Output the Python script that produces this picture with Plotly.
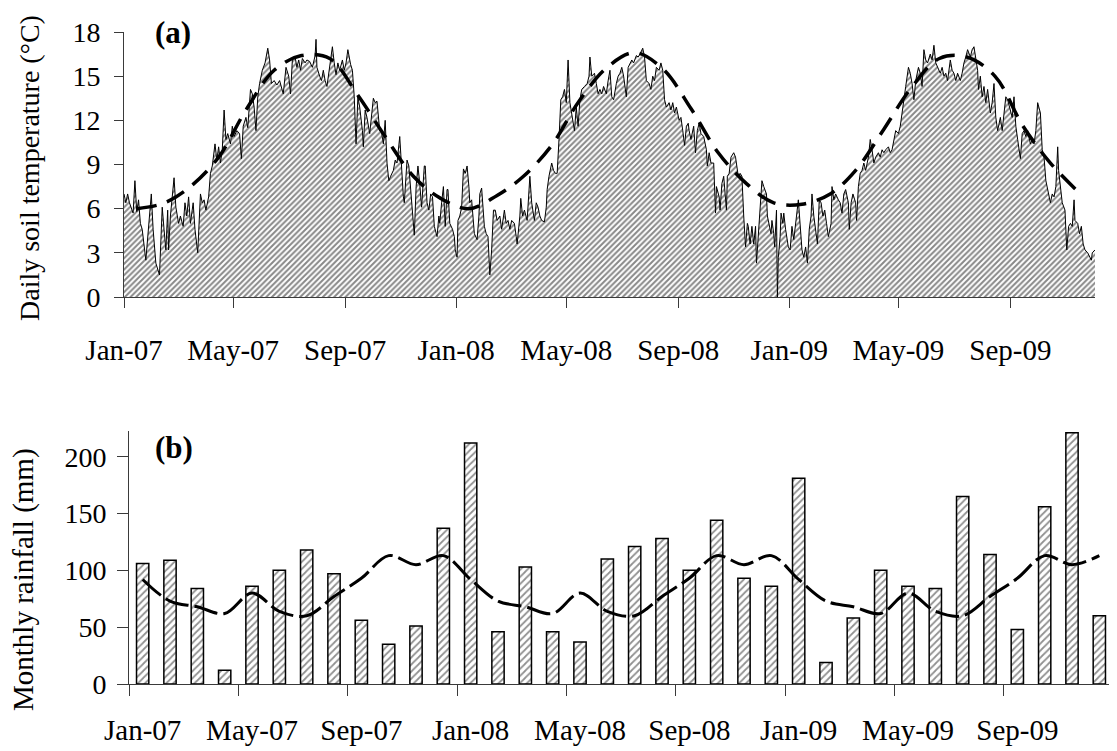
import pandas as pd
import plotly.graph_objects as go

# ---------------- Panel (a): daily soil temperature ----------------
# days since 2007-01-01 and temperature (°C)
soil_days = [
    0, 2, 4, 6, 10, 12, 14, 16, 18, 20,
    24, 27, 30, 32, 35, 39, 40, 42, 44, 46,
    48, 49, 51, 53, 55, 57, 60, 62, 65, 67,
    69, 71, 73, 76, 78, 81, 84, 86, 88, 90,
    93, 95, 97, 100, 102, 104, 106, 108, 110, 112,
    114, 117, 119, 121, 124, 127, 129, 131, 134, 136,
    139, 141, 143, 145, 147, 149, 152, 155, 158, 160,
    162, 165, 168, 171, 175, 178, 181, 183, 185, 188,
    190, 192, 194, 196, 199, 201, 204, 207, 210, 211,
    212, 215, 217, 219, 221, 223, 226, 229, 231, 233,
    235, 237, 240, 242, 244, 246, 249, 251, 253, 255,
    257, 259, 262, 263, 265, 267, 270, 272, 274, 276,
    278, 281, 283, 285, 287, 289, 291, 293, 296, 298,
    300, 303, 305, 307, 308, 311, 313, 315, 317, 319,
    321, 323, 325, 327, 330, 331, 333, 335, 337, 339,
    341, 342, 344, 346, 347, 349, 351, 353, 355, 356,
    358, 361, 363, 364, 366, 367, 369, 371, 373, 375,
    377, 379, 380, 382, 384, 385, 388, 390, 391, 393,
    396, 398, 400, 402, 404, 406, 408, 410, 413, 415,
    418, 420, 422, 424, 426, 429, 431, 432, 435, 436,
    438, 440, 443, 445, 446, 448, 451, 453, 455, 457,
    459, 462, 464, 465, 467, 470, 472, 474, 476, 478,
    480, 482, 484, 486, 488, 490, 492, 495, 497, 499,
    501, 503, 506, 509, 511, 512, 514, 517, 519, 521,
    523, 525, 527, 530, 532, 534, 536, 538, 541, 543,
    545, 547, 549, 552, 554, 556, 558, 560, 563, 565,
    567, 570, 572, 574, 577, 579, 581, 583, 585, 588,
    590, 592, 594, 596, 599, 601, 603, 605, 607, 610,
    612, 614, 616, 618, 620, 621, 623, 626, 628, 630,
    632, 634, 637, 640, 641, 643, 645, 648, 650, 651,
    654, 655, 657, 659, 662, 663, 665, 667, 670, 672,
    673, 675, 677, 679, 681, 683, 685, 686, 688, 690,
    692, 694, 695, 697, 698, 701, 703, 706, 707, 709,
    711, 712, 714, 715, 717, 718, 719, 721, 722, 724,
    725, 727, 728, 730, 732, 734, 736, 737, 739, 741,
    743, 745, 747, 749, 751, 753, 755, 756, 758, 760,
    762, 764, 766, 768, 770, 772, 774, 777, 778, 780,
    782, 785, 787, 789, 791, 793, 796, 797, 799, 801,
    804, 805, 807, 809, 811, 813, 815, 818, 820, 822,
    824, 826, 829, 831, 833, 835, 837, 840, 842, 844,
    846, 848, 851, 853, 855, 857, 859, 862, 864, 866,
    868, 870, 873, 875, 877, 879, 881, 883, 886, 888,
    890, 892, 894, 897, 899, 901, 903, 905, 908, 910,
    912, 914, 916, 919, 921, 923, 925, 927, 930, 932,
    934, 936, 938, 939, 941, 943, 945, 947, 949, 952,
    954, 956, 958, 960, 963, 965, 967, 969, 971, 974,
    976, 978, 980, 982, 985, 987, 989, 991, 993, 996,
    998, 1000, 1002, 1004, 1007, 1009, 1011, 1013, 1015, 1018,
    1020, 1022, 1024, 1026, 1027, 1029, 1031, 1034, 1036, 1038,
    1040, 1042, 1044, 1045, 1048, 1050, 1052, 1054, 1056, 1059,
    1061, 1063, 1064, 1067,
]
soil_temp = [
    7.0, 6.4, 7.0, 6.4, 5.7, 7.9, 5.8, 6.6, 5.0, 4.6,
    2.5, 4.8, 7.0, 4.6, 2.3, 1.5, 3.4, 6.1, 4.6, 3.2,
    5.9, 3.2, 5.5, 6.6, 8.1, 6.1, 5.0, 5.5, 4.8, 6.4,
    5.5, 6.8, 5.0, 6.4, 4.6, 3.0, 7.0, 6.4, 6.6, 5.9,
    6.8, 8.4, 8.9, 10.4, 9.3, 10.2, 9.1, 10.0, 12.7, 10.7,
    11.1, 10.4, 11.6, 10.9, 11.3, 11.1, 9.4, 11.6, 12.2, 11.5,
    14.1, 13.8, 12.9, 11.3, 13.6, 14.5, 15.4, 15.9, 16.9, 16.1,
    14.5, 14.7, 14.4, 14.7, 13.8, 15.6, 15.0, 13.8, 16.1, 16.3,
    15.6, 16.1, 15.4, 16.2, 15.9, 16.1, 16.0, 15.6, 16.4, 17.5,
    15.6, 15.0, 14.7, 15.4, 14.7, 14.3, 15.6, 17.0, 15.9, 15.1,
    15.9, 15.4, 16.1, 15.4, 15.9, 16.8, 15.8, 15.4, 13.6, 10.4,
    13.6, 12.9, 11.3, 10.2, 12.7, 12.2, 11.1, 12.5, 13.5, 13.2,
    13.3, 11.3, 11.2, 10.4, 12.0, 9.1, 7.9, 8.2, 8.6, 9.3,
    9.1, 10.9, 8.4, 6.8, 6.4, 9.3, 8.9, 7.3, 5.5, 4.2,
    7.5, 8.9, 7.7, 6.1, 8.9, 8.9, 6.4, 5.9, 7.0, 6.8,
    4.8, 4.6, 4.1, 5.5, 5.0, 6.4, 7.5, 4.8, 7.3, 7.3,
    5.0, 4.6, 4.1, 3.2, 2.7, 5.2, 5.5, 6.1, 8.7, 8.4,
    8.9, 7.5, 6.4, 6.6, 5.0, 4.3, 3.9, 5.5, 7.0, 7.4,
    4.8, 4.3, 4.1, 1.5, 3.2, 5.9, 5.9, 5.2, 5.5, 4.6,
    5.9, 5.0, 5.2, 4.6, 5.2, 5.0, 4.1, 3.6, 5.5, 6.7,
    5.5, 5.9, 5.2, 7.5, 8.2, 6.4, 5.2, 6.4, 6.1, 5.5,
    5.2, 5.1, 6.1, 7.3, 8.2, 9.1, 8.6, 8.4, 8.4, 10.7,
    13.4, 13.6, 14.1, 13.2, 16.1, 13.2, 12.5, 11.3, 12.9, 11.6,
    13.4, 14.1, 14.3, 14.5, 15.0, 16.3, 15.0, 15.2, 14.5, 13.8,
    14.1, 13.8, 14.3, 13.8, 14.7, 15.4, 13.6, 13.4, 14.5, 15.0,
    15.2, 15.6, 15.0, 13.6, 15.6, 15.9, 16.1, 15.9, 16.4, 16.3,
    16.5, 16.9, 16.3, 14.7, 14.5, 14.1, 15.0, 14.7, 15.6, 15.4,
    15.9, 15.4, 13.4, 12.9, 13.2, 12.7, 13.2, 12.5, 12.9, 12.0,
    12.2, 11.3, 10.3, 11.6, 11.8, 11.3, 10.7, 11.6, 9.8, 11.3,
    11.8, 11.1, 10.9, 10.0, 8.9, 9.8, 9.1, 9.1, 5.7, 7.5,
    6.8, 5.9, 7.7, 8.2, 5.9, 8.2, 8.4, 9.5, 9.8, 9.5,
    9.1, 8.2, 8.4, 8.2, 5.5, 3.4, 5.0, 4.8, 3.6, 4.8,
    3.6, 4.8, 2.3, 4.1, 5.5, 7.9, 7.5, 7.0, 5.5, 5.0,
    4.3, 5.2, 4.3, 3.4, 5.9, 0.0, 2.7, 4.1, 5.7, 5.0,
    5.7, 4.6, 4.1, 3.4, 3.2, 4.8, 3.9, 4.6, 5.5, 6.6,
    4.6, 3.2, 2.7, 3.4, 2.3, 4.6, 5.5, 7.0, 5.5, 4.6,
    3.6, 6.6, 6.4, 5.5, 5.9, 5.0, 4.1, 5.0, 7.5, 6.6,
    7.0, 6.6, 6.4, 5.7, 7.0, 7.3, 6.4, 4.6, 6.4, 7.0,
    6.4, 5.2, 7.5, 8.4, 8.6, 9.1, 8.6, 9.5, 10.7, 10.0,
    9.1, 9.5, 9.8, 9.5, 10.0, 9.8, 10.0, 10.2, 9.8, 10.0,
    10.7, 11.3, 11.1, 11.6, 12.5, 13.6, 14.3, 15.6, 15.2, 14.5,
    13.4, 14.7, 15.6, 15.2, 14.3, 16.8, 16.1, 15.9, 16.5, 16.1,
    17.1, 15.9, 15.6, 15.2, 15.6, 15.0, 15.2, 14.7, 16.1, 15.4,
    15.2, 14.7, 15.2, 14.7, 15.2, 15.9, 16.3, 16.8, 16.3, 16.8,
    17.0, 16.3, 15.4, 14.1, 15.0, 13.6, 14.3, 13.2, 14.1, 12.5,
    13.2, 14.5, 12.2, 11.3, 12.2, 11.3, 12.5, 13.6, 13.4, 12.7,
    12.2, 13.6, 11.6, 10.7, 9.4, 11.1, 11.3, 10.9, 11.3, 10.4,
    10.7, 10.4, 11.3, 13.2, 12.5, 10.0, 9.5, 7.9, 7.3, 6.4,
    7.0, 6.8, 7.5, 10.2, 8.6, 7.5, 6.4, 5.9, 3.2, 4.8,
    5.0, 4.8, 6.6, 5.2, 5.0, 4.3, 4.8, 3.6, 3.2, 3.0,
    2.7, 2.5, 3.0, 3.2,
]

# long-term mean soil temperature, mid-month (dashed curve)
mean_temp_dates = [
    "2007-01-15", "2007-02-15", "2007-03-15", "2007-04-15", "2007-05-15", "2007-06-15",
    "2007-07-15", "2007-08-15", "2007-09-15", "2007-10-15", "2007-11-15", "2007-12-15",
    "2008-01-15", "2008-02-15", "2008-03-15", "2008-04-15", "2008-05-15", "2008-06-15",
    "2008-07-15", "2008-08-15", "2008-09-15", "2008-10-15", "2008-11-15", "2008-12-15",
    "2009-01-15", "2009-02-15", "2009-03-15", "2009-04-15", "2009-05-15", "2009-06-15",
    "2009-07-15", "2009-08-15", "2009-09-15", "2009-10-15", "2009-11-12",
]
mean_temp = [
    6.0, 6.4, 7.5, 9.5, 12.7, 15.4, 16.4, 16.2, 13.7, 10.9, 8.2, 6.7,
    6.0, 6.9, 8.2, 10.3, 13.3, 15.6, 16.6, 15.5, 12.8, 9.8, 7.7, 6.4,
    6.3, 7.0, 8.6, 11.4, 14.2, 16.2, 16.3, 15.0, 11.6, 9.1, 7.3,
]

tick_dates_a = ["2007-01-01", "2007-05-01", "2007-09-01", "2008-01-01", "2008-05-01",
                "2008-09-01", "2009-01-01", "2009-05-01", "2009-09-01"]
tick_labels = ["Jan-07", "May-07", "Sep-07", "Jan-08", "May-08",
               "Sep-08", "Jan-09", "May-09", "Sep-09"]

# ---------------- Panel (b): monthly rainfall ----------------
months = [f"{m}-{y}" for y in ("07", "08", "09")
          for m in ("Jan", "Feb", "Mar", "Apr", "May", "Jun",
                    "Jul", "Aug", "Sep", "Oct", "Nov", "Dec")]
rainfall = [
    106, 109, 84, 12, 86, 100, 118, 97, 56, 35, 51, 137,
    212, 46, 103, 46, 37, 110, 121, 128, 100, 144, 93, 86,
    181, 19, 58, 100, 86, 84, 165, 114, 48, 156, 221, 60,
]
mean_rain = [
    92, 73, 68, 62, 80, 64, 60, 77, 93, 113, 105, 113,
    92, 73, 68, 62, 80, 64, 60, 77, 93, 113, 105, 113,
    92, 73, 68, 62, 80, 64, 60, 77, 93, 113, 105, 113,
]

# ---------------- Build figure ----------------
FONT = "Liberation Serif"
AX = "#3a3a3a"

# the page body has an 8 px margin, so the figure is drawn 8 px right/down
OFF = 8
W, H = 1117, 751


def px(x):
    return (x - OFF) / W


def py(y):
    return 1 - (y - OFF) / H


soil_dates = pd.Timestamp("2007-01-01") + pd.to_timedelta(soil_days, unit="D")
month_idx = list(range(len(months)))
label_idx = [months.index(t) for t in tick_labels]

fig = go.Figure()
fig.add_trace(go.Scatter(
    x=soil_dates, y=soil_temp, mode="lines",
    line=dict(color="black", width=1),
    fill="tozeroy", fillcolor="white",
    fillpattern=dict(shape="/", fgcolor="#111111", bgcolor="white", size=4, solidity=0.5),
    xaxis="x", yaxis="y", showlegend=False, hoverinfo="skip"))
fig.add_trace(go.Scatter(
    x=mean_temp_dates, y=mean_temp, mode="lines",
    line=dict(color="black", width=3.5, dash="20px,11px", shape="spline", smoothing=1),
    xaxis="x", yaxis="y", showlegend=False))
fig.add_trace(go.Bar(
    x=month_idx, y=rainfall, width=0.45,
    marker=dict(color="white", line=dict(color="black", width=1.5),
                pattern=dict(shape="/", fgcolor="#222222", bgcolor="white", size=5, solidity=0.35)),
    xaxis="x2", yaxis="y2", showlegend=False))
fig.add_trace(go.Scatter(
    x=month_idx, y=mean_rain, mode="lines",
    line=dict(color="black", width=3, dash="24px,6px", shape="spline", smoothing=1),
    xaxis="x2", yaxis="y2", showlegend=False))

xfont = dict(family=FONT, size=29, color="black")
yfont = dict(family=FONT, size=28, color="black")
common = dict(showline=True, linecolor=AX, linewidth=1, showgrid=False, zeroline=False,
              tickcolor=AX, tickwidth=1, automargin=False)

fig.update_layout(
    width=W, height=H, margin=dict(l=0, r=0, t=0, b=0, autoexpand=False),
    paper_bgcolor="white", plot_bgcolor="white",
    bargap=0.55,
    xaxis=dict(domain=[px(124), px(1095)], anchor="y", type="date",
               range=["2007-01-01", "2009-12-03"],
               tickvals=tick_dates_a, ticktext=tick_labels, tickfont=xfont,
               ticks="outside", ticklen=10, ticklabelstandoff=17, **common),
    yaxis=dict(domain=[py(297), py(32)], anchor="x", range=[0, 18], tickfont=yfont,
               tick0=0, dtick=3, ticks="outside", ticklen=9, ticklabelstandoff=8, **common),
    xaxis2=dict(domain=[px(129), px(1113)], anchor="y2", range=[-0.5, 35.5],
                tickvals=label_idx, ticktext=tick_labels, ticks="", tickfont=xfont,
                minor=dict(tick0=-0.5, dtick=4, ticks="outside", ticklen=11,
                           tickcolor=AX, tickwidth=1),
                ticklabelstandoff=20, **common),
    yaxis2=dict(domain=[py(684), py(430.6)], anchor="x2", range=[0, 223], tickfont=yfont,
                tickvals=[0, 50, 100, 150, 200], ticks="outside", ticklen=11,
                ticklabelstandoff=5, **common),
    annotations=[
        dict(text="<b>(a)</b>", x=px(173), y=py(33), xref="paper", yref="paper",
             xanchor="center", yanchor="middle", showarrow=False,
             font=dict(family=FONT, size=31, color="black")),
        dict(text="<b>(b)</b>", x=px(174), y=py(447), xref="paper", yref="paper",
             xanchor="center", yanchor="middle", showarrow=False,
             font=dict(family=FONT, size=31, color="black")),
        dict(text="Daily soil temperature (°C)", x=px(29), y=py(168),
             xref="paper", yref="paper", xanchor="center", yanchor="middle",
             showarrow=False, textangle=-90,
             font=dict(family=FONT, size=28, color="black")),
        dict(text="Monthly rainfall (mm)", x=px(23), y=py(580),
             xref="paper", yref="paper", xanchor="center", yanchor="middle",
             showarrow=False, textangle=-90,
             font=dict(family=FONT, size=29, color="black")),
    ],
)

fig.write_html("out.html")
